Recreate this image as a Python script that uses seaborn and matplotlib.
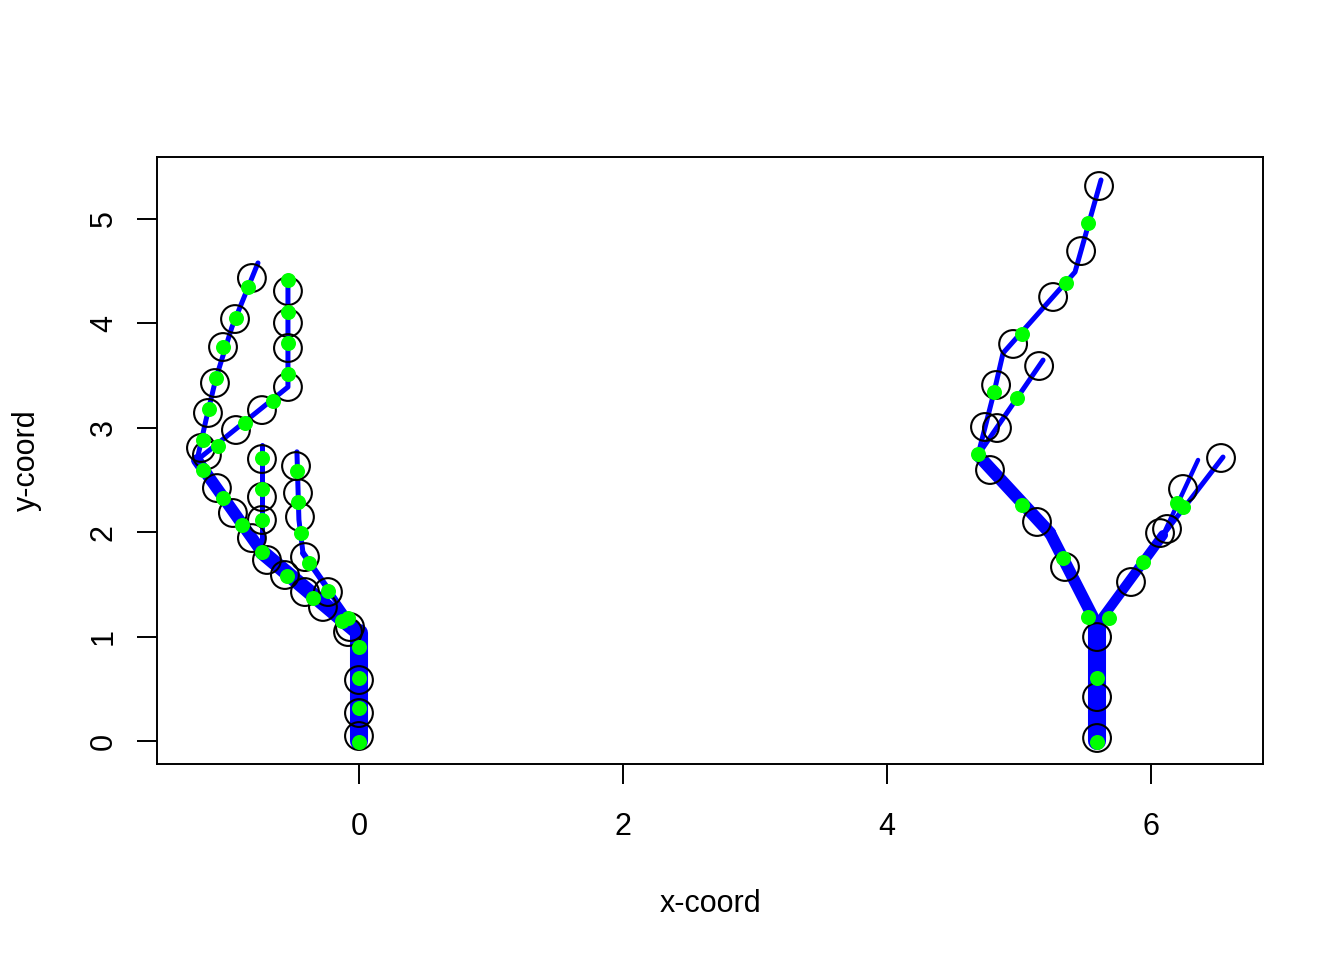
import matplotlib
matplotlib.use("Agg")
import matplotlib.pyplot as plt
import numpy as np
import pandas as pd
import seaborn as sns

# branch polylines (x, y) of the two trees
branch_x = [
    [0.0, 0.0],
    [0.0, -0.735],
    [-0.735, -1.227],
    [-0.735, -0.735],
    [0.0, -0.424],
    [-0.424, -0.455, -0.47],
    [-1.227, -1.159, -1.083, -0.962, -0.765],
    [-1.227, -0.538, -0.538],
    [5.591, 5.591],
    [5.591, 5.235],
    [5.235, 4.689],
    [4.689, 4.811, 4.879, 5.424, 5.621],
    [4.689, 5.182],
    [5.591, 6.091],
    [6.091, 6.356],
    [6.091, 6.545],
]
branch_y = [
    [0.0, 1.03],
    [1.03, 1.81],
    [1.81, 2.69],
    [1.81, 2.835],
    [1.03, 1.80],
    [1.80, 2.12, 2.77],
    [2.69, 3.075, 3.477, 3.966, 4.579],
    [2.69, 3.391, 4.435],
    [0.0, 1.111],
    [1.111, 1.992],
    [1.992, 2.739],
    [2.739, 3.343, 3.716, 4.492, 5.374],
    [2.739, 3.649],
    [1.111, 1.973],
    [1.973, 2.692],
    [1.973, 2.720],
]
branch_lw = [13, 10.8, 8.6, 3.6, 4.3, 3.6, 3.6, 3.6,
             13, 8.6, 9.0, 3.6, 3.6, 7.2, 3.2, 3.6]

# open circles
circle_x = [-0.811, -0.939, -1.030, -1.091, -1.144, -1.197, -1.152, -1.076,
            -0.932, -0.735, -0.538, -0.538, -0.538, -0.538, -0.735, -0.735,
            -0.477, -0.462, -0.955, -0.447, -0.735, -0.811, -0.409, -0.697,
            -0.561, -0.409, -0.235, -0.273, -0.068, -0.083, 0.0, 0.0, 0.0,
            5.606, 5.470, 5.258, 4.955, 5.152, 4.826, 4.742, 4.833, 4.780,
            5.136, 5.348, 5.591, 5.591, 5.591, 5.848, 6.068, 6.121, 6.242, 6.530]
circle_y = [4.435, 4.042, 3.774, 3.429, 3.142, 2.807, 2.739, 2.423,
            2.979, 3.170, 4.310, 4.004, 3.764, 3.391, 2.701, 2.337,
            2.634, 2.375, 2.184, 2.146, 2.117, 1.944, 1.762, 1.734,
            1.590, 1.427, 1.427, 1.284, 1.092, 1.044, 0.584, 0.268, 0.048,
            5.316, 4.693, 4.253, 3.803, 3.592, 3.410, 3.008, 2.998, 2.596,
            2.098, 1.667, 0.996, 0.421, 0.029, 1.523, 1.992, 2.031, 2.414, 2.711]

# green points
green_x = [-0.841, -0.932, -1.030, -1.083, -1.136, -1.182, -1.068, -0.864,
           -0.652, -0.538, -0.538, -0.538, -0.538, -0.735, -0.735, -0.735,
           -0.470, -0.462, -0.439, -0.379, -1.182, -1.030, -0.886, -0.735,
           -0.545, -0.348, -0.235, -0.129, -0.083, 0.0, 0.0, 0.0, 0.0,
           5.523, 5.356, 5.023, 4.811, 4.985, 4.689, 5.023, 5.333, 5.523,
           5.682, 5.939, 6.197, 6.242, 5.591, 5.591]
green_y = [4.349, 4.052, 3.774, 3.477, 3.180, 2.883, 2.826, 3.046,
           3.257, 3.515, 3.812, 4.109, 4.416, 2.711, 2.414, 2.117,
           2.586, 2.289, 1.992, 1.705, 2.596, 2.328, 2.069, 1.810,
           1.580, 1.370, 1.437, 1.149, 1.178, 0.900, 0.603, 0.316, -0.010,
           4.962, 4.387, 3.898, 3.343, 3.285, 2.749, 2.261, 1.753, 1.188,
           1.178, 1.715, 2.280, 2.241, 0.603, -0.010]

x_ticks = [0, 2, 4, 6]
y_ticks = [0, 1, 2, 3, 4, 5]

sns.set_theme(style="white")
plt.rcParams["font.family"] = ["Liberation Sans", "DejaVu Sans"]

fig = plt.figure(figsize=(13.44, 9.6), dpi=100)
ax = fig.add_axes([157 / 1344, 1 - 764 / 960, 1106 / 1344, 607 / 960])

for xs, ys, lw in zip(branch_x, branch_y, branch_lw):
    seg = pd.DataFrame({"x": xs, "y": ys})
    sns.lineplot(data=seg, x="x", y="y", sort=False, estimator=None, color="#0000FF",
                 linewidth=lw, solid_capstyle="round", solid_joinstyle="round",
                 legend=False, ax=ax)

sns.scatterplot(x=circle_x, y=circle_y, color="black", facecolors="none",
                edgecolors="black", s=400, linewidth=1.5, zorder=3, ax=ax)
sns.scatterplot(x=green_x, y=green_y, color="#00FF00", s=117, linewidth=0,
                zorder=4, ax=ax)

ax.set_xlim(-1.530, 6.848)
ax.set_ylim(-0.220, 5.594)
ax.set_xticks(x_ticks)
ax.set_yticks(y_ticks)
ax.set_xticklabels([str(t) for t in x_ticks])
ax.set_yticklabels([str(t) for t in y_ticks], rotation=90, va="center")
ax.tick_params(axis="both", direction="out", length=14.4, width=1.4,
               color="black", labelsize=22, labelcolor="black", bottom=True, left=True)
ax.tick_params(axis="x", pad=20)
ax.tick_params(axis="y", pad=13)
for sp in ax.spines.values():
    sp.set_color("black")
    sp.set_linewidth(1.4)

ax.set_xlabel("x-coord", fontsize=22, color="black")
ax.set_ylabel("y-coord", fontsize=22, color="black")
ax.xaxis.label.set_va("center")
ax.yaxis.label.set_va("center")
ax.xaxis.set_label_coords(0.5, (764 - 904) / 607)
ax.yaxis.set_label_coords((27 - 157) / 1106, 0.5)
ax.grid(False)

fig.savefig("out.png", dpi=100, facecolor="white")
